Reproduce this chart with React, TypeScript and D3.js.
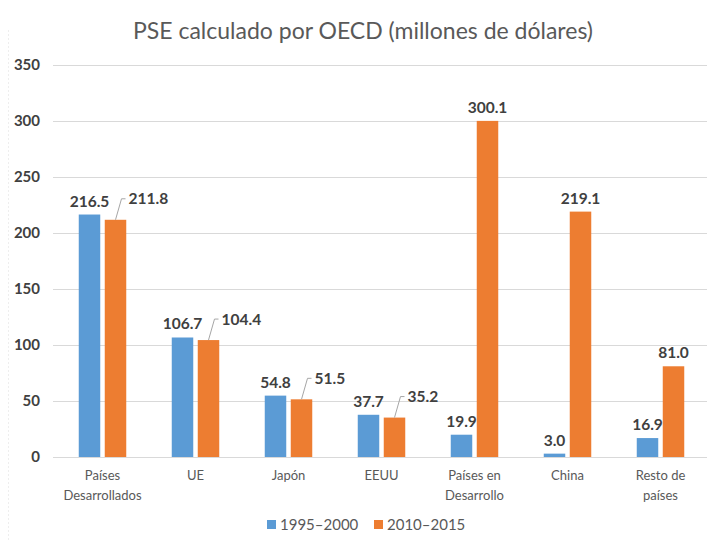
import React from "react";
import * as d3 from "d3";

const categories: string[][] = [
  ["Países", "Desarrollados"],
  ["UE"],
  ["Japón"],
  ["EEUU"],
  ["Países en", "Desarrollo"],
  ["China"],
  ["Resto de", "países"],
];
const series1995: number[] = [216.5, 106.7, 54.8, 37.7, 19.9, 3.0, 16.9];
const series2010: number[] = [211.8, 104.4, 51.5, 35.2, 300.1, 219.1, 81.0];
const seriesNames: string[] = ["1995–2000", "2010–2015"];
const yTicks: number[] = [0, 50, 100, 150, 200, 250, 300, 350];
const leaderFlags: boolean[] = [true, true, true, true, false, false, false];

const W = 710;
const H = 540;
const FONT = "Lato, 'Open Sans', sans-serif";
const BLUE = "#5b9bd5";
const ORANGE = "#ed7d31";

export default function App() {
  const margin = { left: 56, right: 3, top: 65, bottom: 83 };
  const x = d3
    .scaleBand<number>()
    .domain(d3.range(categories.length))
    .range([margin.left, W - margin.right]);
  const y = d3.scaleLinear().domain([0, 350]).range([H - margin.bottom, margin.top]);
  const barW = 21.5;
  const gap = 4.5;
  const groupW = barW * 2 + gap;

  const blueX = (i: number) => (x(i) as number) + x.bandwidth() / 2 - groupW / 2;
  const orangeX = (i: number) => blueX(i) + barW + gap;

  return (
    <svg
      width={W}
      height={H}
      style={{ position: "absolute", left: 0, top: 0, background: "#fff" }}
      fontFamily={FONT}
    >
      <rect x={0} y={0} width={W} height={H} fill="#fff" />
      <line x1={8.5} x2={8.5} y1={30} y2={H} stroke="#eeeeee" strokeDasharray="2,2" />
      <text x={363} y={39} textAnchor="middle" fontSize={23} fill="#595959">
        PSE calculado por OECD (millones de dólares)
      </text>
      {yTicks.map((t) => (
        <g key={t}>
          <line
            x1={margin.left - 3}
            x2={W - margin.right}
            y1={Math.round(y(t)) + 0.5}
            y2={Math.round(y(t)) + 0.5}
            stroke="#d9d9d9"
            strokeWidth={1}
          />
          <text
            x={40}
            y={y(t) + 5}
            textAnchor="end"
            fontSize={15}
            fontWeight="bold"
            fill="#404040"
          >
            {t}
          </text>
        </g>
      ))}
      {categories.map((c, i) => {
        const cx = (x(i) as number) + x.bandwidth() / 2;
        const b = series1995[i];
        const o = series2010[i];
        const ob = orangeX(i) + barW / 2;
        const bb = blueX(i) + barW / 2;
        const oTop = y(o);
        const lead = leaderFlags[i];
        const ly = oTop - 21;
        return (
          <g key={i}>
            <rect x={blueX(i)} y={y(b)} width={barW} height={y(0) - y(b)} fill={BLUE} />
            <rect x={orangeX(i)} y={oTop} width={barW} height={y(0) - oTop} fill={ORANGE} />
            <text
              x={bb}
              y={y(b) - 8}
              textAnchor="middle"
              fontSize={15.5}
              fontWeight="bold"
              fill="#404040"
            >
              {b.toFixed(1)}
            </text>
            {lead ? (
              <g>
                <path
                  d={`M${ob},${oTop} L${ob + 6},${ly} L${ob + 10},${ly}`}
                  fill="none"
                  stroke="#a6a6a6"
                  strokeWidth={1}
                />
                <text
                  x={ob + 13}
                  y={ly + 5.5}
                  textAnchor="start"
                  fontSize={15.5}
                  fontWeight="bold"
                  fill="#404040"
                >
                  {o.toFixed(1)}
                </text>
              </g>
            ) : (
              <text
                x={ob}
                y={oTop - 8}
                textAnchor="middle"
                fontSize={15.5}
                fontWeight="bold"
                fill="#404040"
              >
                {o.toFixed(1)}
              </text>
            )}
            {c.map((line, k) => (
              <text
                key={k}
                x={cx}
                y={480 + k * 20}
                textAnchor="middle"
                fontSize={13}
                fill="#595959"
              >
                {line}
              </text>
            ))}
          </g>
        );
      })}
      <g>
        <rect x={267} y={520} width={9} height={9} fill={BLUE} />
        <text x={280} y={529.5} fontSize={15} fill="#595959">
          {seriesNames[0]}
        </text>
        <rect x={374} y={520} width={9} height={9} fill={ORANGE} />
        <text x={387} y={529.5} fontSize={15} fill="#595959">
          {seriesNames[1]}
        </text>
      </g>
    </svg>
  );
}
